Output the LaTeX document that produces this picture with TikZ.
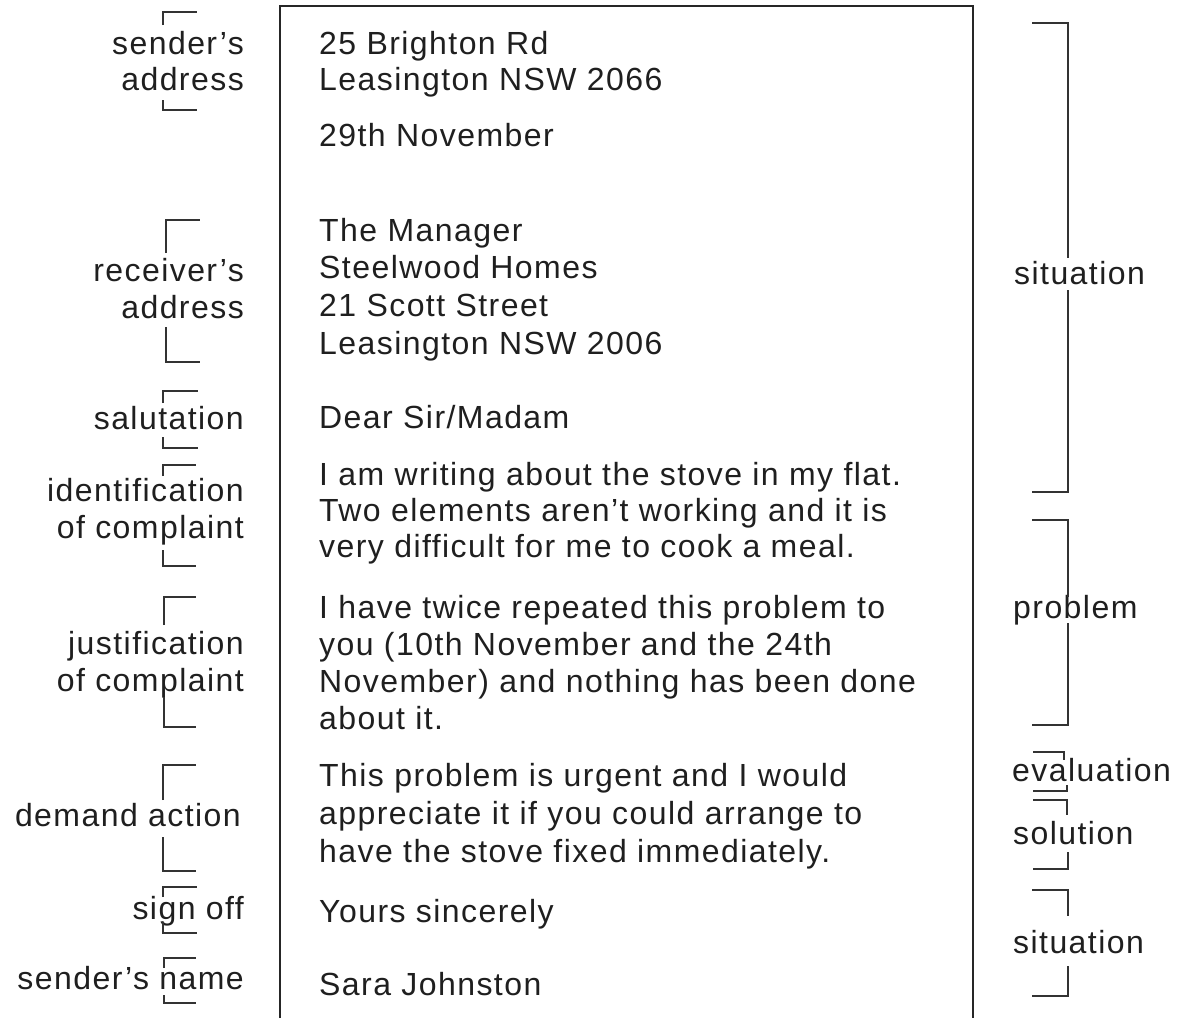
\documentclass[tikz,border=0pt]{standalone}
\usepackage{fontspec}
\setmainfont{Liberation Sans}[LetterSpace=4.5]
\begin{document}
\begin{tikzpicture}[x=1pt,y=-1pt,
  txt/.style={anchor=base west,inner sep=0pt,text=black!88,font=\fontsize{32}{36}\selectfont},
  lab/.style={anchor=base east,inner sep=0pt,text=black!88,font=\fontsize{32}{36}\selectfont},
  rlab/.style={anchor=base west,inner sep=0pt,text=black!88,font=\fontsize{32}{36}\selectfont},
  brk/.style={draw=black!80,line width=1.5pt},
  frame/.style={draw=black!85,line width=1.6pt}]
\useasboundingbox (0,0) rectangle (1182,1018);
% letter frame (open at the bottom)
\draw[frame] (280,1018) -- (280,6) -- (973,6) -- (973,1018);
% letter text
\node[txt] (l1) at (319,54) {25 Brighton Rd};
\node[txt] (l2) at (319,90) {Leasington NSW 2066};
\node[txt] (l3) at (319,146) {29th November};
\node[txt] (l4) at (319,241) {The Manager};
\node[txt] (l5) at (319,278) {Steelwood Homes};
\node[txt] (l6) at (319,316) {21 Scott Street};
\node[txt] (l7) at (319,354) {Leasington NSW 2006};
\node[txt] (l8) at (319,428) {Dear Sir/Madam};
\node[txt] (l9) at (319,485) {I am writing about the stove in my flat.};
\node[txt] (l10) at (319,521) {Two elements aren’t working and it is};
\node[txt] (l11) at (319,557) {very difficult for me to cook a meal.};
\node[txt] (l12) at (319,618) {I have twice repeated this problem to};
\node[txt] (l13) at (319,655) {you (10th November and the 24th};
\node[txt] (l14) at (319,692) {November) and nothing has been done};
\node[txt] (l15) at (319,729) {about it.};
\node[txt] (l16) at (319,786) {This problem is urgent and I would};
\node[txt] (l17) at (319,824) {appreciate it if you could arrange to};
\node[txt] (l18) at (319,862) {have the stove fixed immediately.};
\node[txt] (l19) at (319,922) {Yours sincerely};
\node[txt] (l20) at (319,995) {Sara Johnston};
% left labels
\node[lab] (a1) at (244,54) {sender’s};
\node[lab] (a2) at (244,90) {address};
\node[lab] (b1) at (244,281) {receiver’s};
\node[lab] (b2) at (244,318) {address};
\node[lab] (c1) at (244,429) {salutation};
\node[lab] (d1) at (244,501) {identification};
\node[lab] (d2) at (244,538) {of complaint};
\node[lab] (e1) at (244,654) {justification};
\node[lab] (e2) at (244,691) {of complaint};
\node[lab] (f1) at (241,826) {demand action};
\node[lab] (g1) at (244,919) {sign off};
\node[lab] (h1) at (244,989) {sender’s name};
% left brackets
\draw[brk] (163,25) |- (197,12);   \draw[brk] (163,100) |- (197,110);
\draw[brk] (166,253) |- (200,220); \draw[brk] (166,327) |- (200,362);
\draw[brk] (163,403) |- (198,391); \draw[brk] (163,437) |- (198,448);
\draw[brk] (163,476) |- (196,465); \draw[brk] (163,550) |- (196,566);
\draw[brk] (164,625) |- (196,597); \draw[brk] (164,697) |- (196,727);
\draw[brk] (163,800) |- (196,765); \draw[brk] (163,837) |- (196,871);
\draw[brk] (163,897) |- (197,887); \draw[brk] (163,922) |- (197,933);
\draw[brk] (164,968) |- (196,958); \draw[brk] (164,995) |- (196,1003);
% right labels
\node[rlab] (s1) at (1014,284) {situation};
\node[rlab] (p1) at (1013,618) {problem};
\node[rlab] (v1) at (1012,781) {evaluation};
\node[rlab] (o1) at (1013,844) {solution};
\node[rlab] (s2) at (1013,953) {situation};
% right brackets
\draw[brk] (1032,23) -| (1068,258);  \draw[brk] (1068,290) |- (1032,492);
\draw[brk] (1032,520) -| (1068,597); \draw[brk] (1068,623) |- (1032,725);
\draw[brk] (1033,752) -| (1064,760); \draw[brk] (1067,785) |- (1033,791);
\draw[brk] (1033,800) -| (1067,815); \draw[brk] (1068,852) |- (1033,869);
\draw[brk] (1032,890) -| (1068,916); \draw[brk] (1068,966) |- (1032,996);
\end{tikzpicture}
\end{document}
